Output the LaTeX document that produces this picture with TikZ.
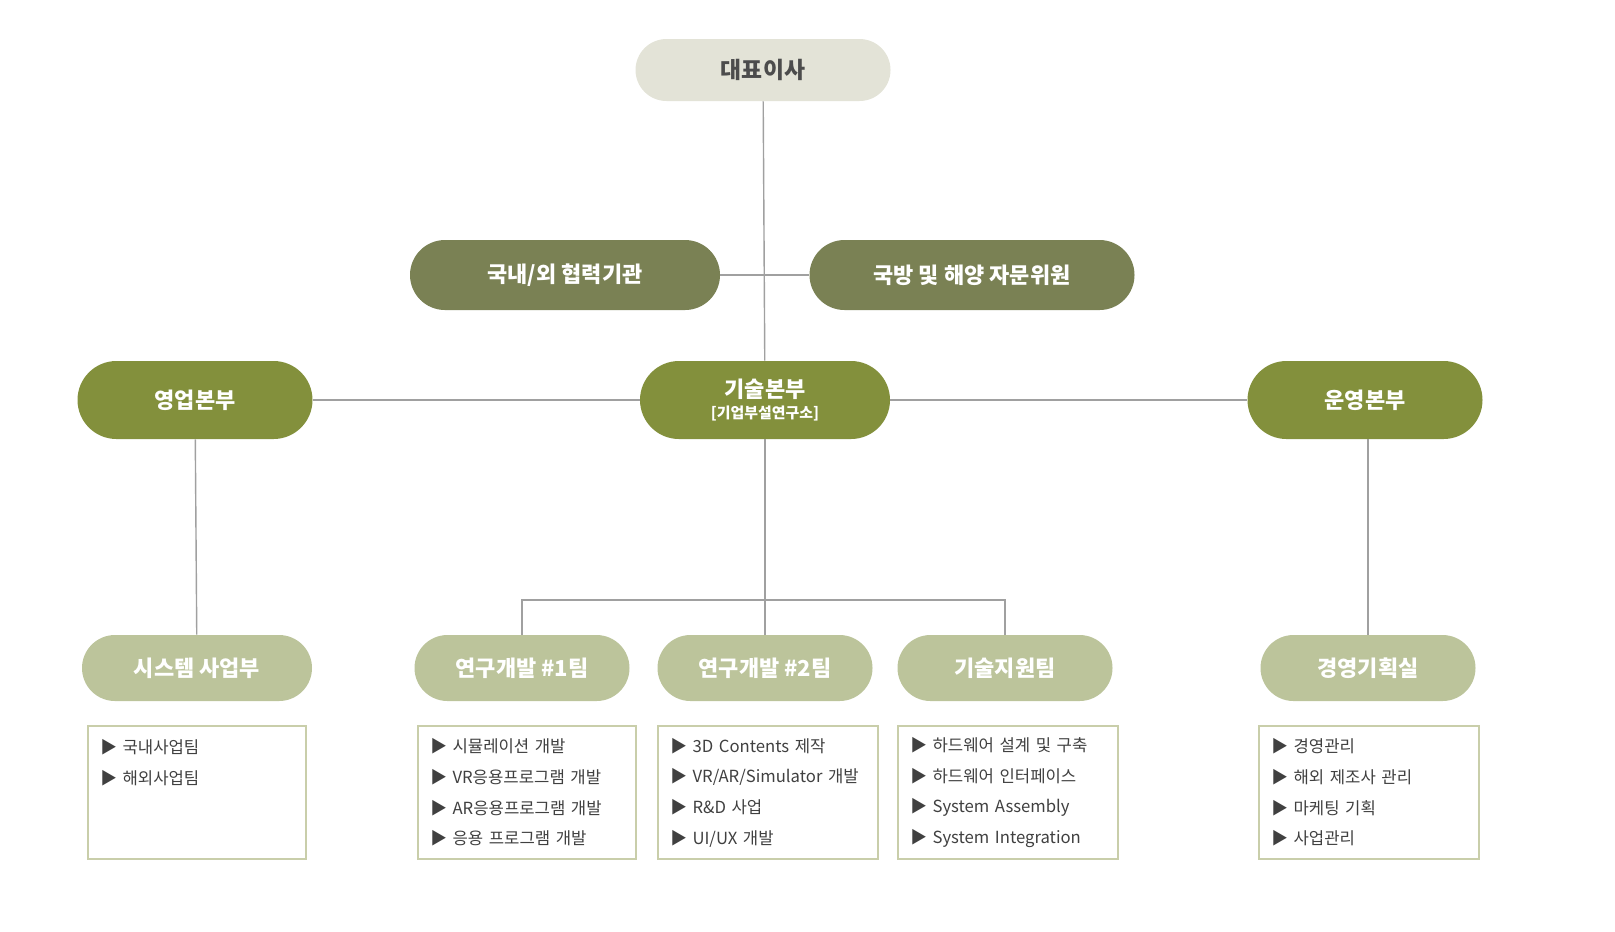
\documentclass[tikz,border=0pt]{standalone}
\usepackage{fontspec}
\setmainfont{Noto Sans CJK KR}
\usetikzlibrary{positioning}
\definecolor{ceofill}{HTML}{E3E3D7}
\definecolor{advfill}{HTML}{7A8154}
\definecolor{hqfill}{HTML}{83903C}
\definecolor{teamfill}{HTML}{BCC49B}
\definecolor{listline}{HTML}{C9CEAA}
\definecolor{linkgray}{HTML}{A0A0A0}

\tikzset{
    pill/.style={minimum height=#1*0.02cm, rounded corners=#1*0.01cm, inner sep=0pt, font=\bfseries},
    ceo/.style={pill=62, fill=ceofill, text=black!70, font=\bfseries\fontsize{13}{15}\selectfont},
    adv/.style={pill=70, fill=advfill, text=white, font=\bfseries\fontsize{12.5}{15}\selectfont},
    hq/.style={pill=78, fill=hqfill, text=white, font=\bfseries\fontsize{12.5}{15}\selectfont},
    team/.style={pill=66, fill=teamfill, text=white, font=\bfseries\fontsize{12.5}{15}\selectfont},
    listbox/.style={draw=listline, line width=1.2pt, minimum height=133*0.02cm, text width=#1*0.02cm-14pt, inner xsep=7pt, align=left, anchor=north, font=\fontsize{9.5}{17.5}\selectfont, text=black!75},
    link/.style={draw=linkgray, line width=0.8pt}
}

\begin{document}
\begin{tikzpicture}[x=0.02cm, y=-0.02cm]
    \useasboundingbox (0,0) rectangle (1615,931);

    % Top
    \node[ceo, minimum width=255*0.02cm] (ceo) at (763,70) {대표이사};

    % Advisory
    \node[adv, minimum width=310*0.02cm] (coop) at (565,275) {국내/외 협력기관};
    \node[adv, minimum width=325*0.02cm] (advis) at (972,275) {국방 및 해양 자문위원};

    % Headquarters
    \node[hq, minimum width=235*0.02cm] (sales) at (195,400) {영업본부};
    \node[hq, minimum width=250*0.02cm, align=center] (tech) at (765,400) {기술본부\\[-3pt]{\fontsize{8.5}{10}\selectfont [기업부설연구소]}};
    \node[hq, minimum width=235*0.02cm] (oper) at (1365,400) {운영본부};

    % Teams
    \node[team, minimum width=230*0.02cm] (sys) at (197,668) {시스템 사업부};
    \node[team, minimum width=215*0.02cm] (rd1) at (522,668) {연구개발 \#1팀};
    \node[team, minimum width=215*0.02cm] (rd2) at (765,668) {연구개발 \#2팀};
    \node[team, minimum width=215*0.02cm] (sup) at (1005,668) {기술지원팀};
    \node[team, minimum width=215*0.02cm] (mgmt) at (1368,668) {경영기획실};

    % Lists
    \node[listbox=218] (sysl) at (197,725) {▶ 국내사업팀\\▶ 해외사업팀\\~\\~};
    \node[listbox=218] (rd1l) at (527,725) {▶ 시뮬레이션 개발\\▶ VR응용프로그램 개발\\▶ AR응용프로그램 개발\\▶ 응용 프로그램 개발};
    \node[listbox=220] (rd2l) at (768,725) {▶ 3D Contents 제작\\▶ VR/AR/Simulator 개발\\▶ R\&D 사업\\▶ UI/UX 개발};
    \node[listbox=220] (supl) at (1008,725) {▶ 하드웨어 설계 및 구축\\▶ 하드웨어 인터페이스\\▶ System Assembly\\▶ System Integration};
    \node[listbox=220] (mgmtl) at (1369,725) {▶ 경영관리\\▶ 해외 제조사 관리\\▶ 마케팅 기획\\▶ 사업관리};

    % Connectors
    \coordinate (split) at (765,600);
    \path[link] (ceo) -- (tech);
    \path[link] (coop) -- (advis);
    \path[link] (sales) -- (tech) -- (oper);
    \path[link] (sales) -- (sys);
    \path[link] (oper.south -| mgmt) -- (mgmt);
    \path[link] (tech) -- (rd2);
    \path[link] (rd1) |- (split) -| (sup);
\end{tikzpicture}
\end{document}
